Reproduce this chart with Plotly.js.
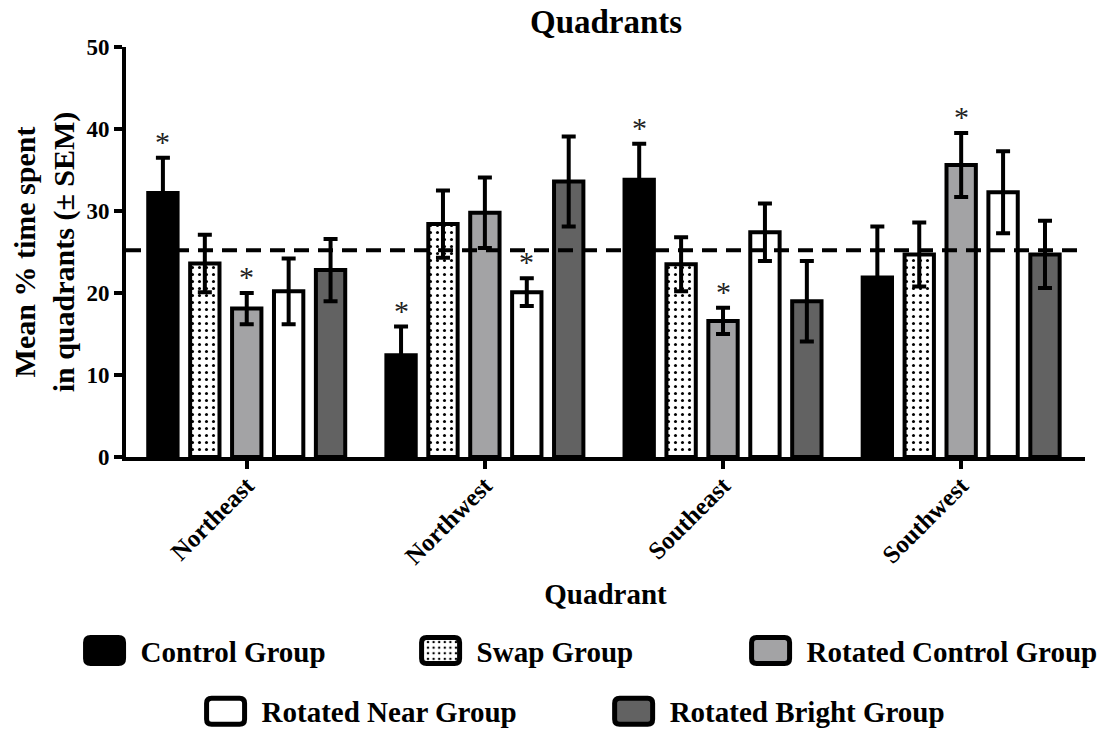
<!DOCTYPE html>
<html>
<head>
<meta charset="utf-8">
<script src="https://cdn.plot.ly/plotly-3.0.1.min.js"></script>
<style>html,body{margin:0;padding:0;background:#fff;}</style>
</head>
<body>
<div id="chart" style="width:1106px;height:731px;"></div>
<script>
const quadrants = ["Northeast", "Northwest", "Southeast", "Southwest"];
const groupNames = ["Control Group", "Swap Group", "Rotated Control Group", "Rotated Near Group", "Rotated Bright Group"];
const controlMean = [32.2, 12.4, 33.8, 21.9];
const controlSem = [4.3, 3.5, 4.4, 6.2];
const swapMean = [23.6, 28.4, 23.5, 24.7];
const swapSem = [3.5, 4.1, 3.3, 3.9];
const rotControlMean = [18.1, 29.8, 16.6, 35.6];
const rotControlSem = [1.9, 4.3, 1.6, 3.9];
const rotNearMean = [20.2, 20.1, 27.4, 32.3];
const rotNearSem = [4.0, 1.7, 3.5, 5.0];
const rotBrightMean = [22.8, 33.6, 19.0, 24.7];
const rotBrightSem = [3.8, 5.5, 4.9, 4.1];
const chanceLevel = 25.2;
// significance flags [group][quadrant]
const significant = [
  [true, true, true, false],
  [false, false, false, false],
  [true, false, true, true],
  [false, true, false, false],
  [false, false, false, false]
];

const means = [controlMean, swapMean, rotControlMean, rotNearMean, rotBrightMean];
const sems = [controlSem, swapSem, rotControlSem, rotNearSem, rotBrightSem];
const fills = ["#000000", "#ffffff", "#a3a3a5", "#ffffff", "#626262"];

const FONT = "Liberation Serif, Times New Roman, serif";
const bargap = 0.12, bargroupgap = 0.3;

// legend placement (one legend box per entry, two rows as in the original)
const legendIds = ["legend", "legend2", "legend3", "legend4", "legend5"];
const legendX = [-0.0453, 0.3051, 0.6492, 0.0809, 0.5064];
const legendY = [-0.41, -0.41, -0.41, -0.558, -0.558];

const traces = means.map((m, i) => {
  const t = {
    type: "bar",
    name: groupNames[i],
    x: quadrants,
    y: m,
    legend: legendIds[i],
    marker: {color: fills[i], line: {color: "#000", width: 4}},
    error_y: {type: "data", array: sems[i], visible: true, color: "#000", thickness: 4, width: 7},
    hoverinfo: "x+y"
  };
  if (i === 1) {
    t.marker.pattern = {shape: ".", fgcolor: "#000", bgcolor: "#fff", size: 7, solidity: 0.15};
  }
  return t;
});

const slot = (1 - bargap) / means.length;
const annotations = [];
means.forEach((m, i) => {
  m.forEach((v, q) => {
    if (significant[i][q]) {
      annotations.push({
        x: q + (i - (means.length - 1) / 2) * slot,
        y: v + sems[i][q],
        xref: "x", yref: "y",
        text: "*", showarrow: false, yanchor: "bottom", yshift: -2,
        font: {family: FONT, size: 30, color: "#222"}
      });
    }
  });
});

const legendFont = {family: FONT, size: 29, color: "#000", weight: "bold"};

const layout = {
  width: 1106, height: 731,
  margin: {l: 126, r: 21, t: 47, b: 274, autoexpand: false},
  paper_bgcolor: "#fff", plot_bgcolor: "#fff",
  font: {family: FONT, color: "#000"},
  title: {text: "<b>Quadrants</b>", font: {family: FONT, size: 33, color: "#000"}, x: 0.548, xanchor: "center", y: 0.986, yanchor: "top"},
  barmode: "group",
  bargap: bargap, bargroupgap: bargroupgap,
  xaxis: {
    type: "category",
    range: [-0.507, 3.52],
    automargin: false,
    showline: true, linecolor: "#000", linewidth: 4,
    ticks: "outside", ticklen: 8, tickwidth: 4, tickcolor: "#000",
    tickangle: -45,
    ticklabelstandoff: -8,
    tickfont: {family: FONT, size: 25, color: "#000", weight: "bold"},
    title: {text: "<b>Quadrant</b>", font: {family: FONT, size: 29, color: "#000"}, standoff: 16},
    showgrid: false, zeroline: false
  },
  yaxis: {
    range: [0, 50],
    automargin: false,
    tickvals: [0, 10, 20, 30, 40, 50],
    showline: true, linecolor: "#000", linewidth: 4,
    ticks: "outside", ticklen: 8, tickwidth: 4, tickcolor: "#000",
    tickfont: {family: FONT, size: 23, color: "#000", weight: "bold"},
    title: {text: "<b>Mean % time spent<br>in quadrants (± SEM)</b>", font: {family: FONT, size: 30, color: "#000"}, standoff: 4},
    showgrid: false, zeroline: false
  },
  shapes: [{
    type: "line", xref: "paper", yref: "y", x0: 0, x1: 1, y0: chanceLevel, y1: chanceLevel,
    line: {color: "#000", width: 4, dash: "15px,9px"}, layer: "above"
  }],
  annotations: annotations,
  showlegend: true
};

legendIds.forEach((id, i) => {
  layout[id] = {
    orientation: "h", x: legendX[i], xanchor: "left", y: legendY[i], yanchor: "top",
    font: legendFont, itemwidth: 48,
    bgcolor: "rgba(0,0,0,0)"
  };
});

Plotly.newPlot("chart", traces, layout, {displayModeBar: false, staticPlot: true}).then(() => {
  // enlarge legend swatches to rounded boxes like the original
  document.querySelectorAll("#chart .legendpoints path").forEach(p => {
    p.setAttribute("d", "M-26,-8Q-26,-13 -21,-13H7Q12,-13 12,-8V8Q12,13 7,13H-21Q-26,13 -26,8Z");
    p.style.strokeWidth = "5px";
  });
});
</script>
</body>
</html>
